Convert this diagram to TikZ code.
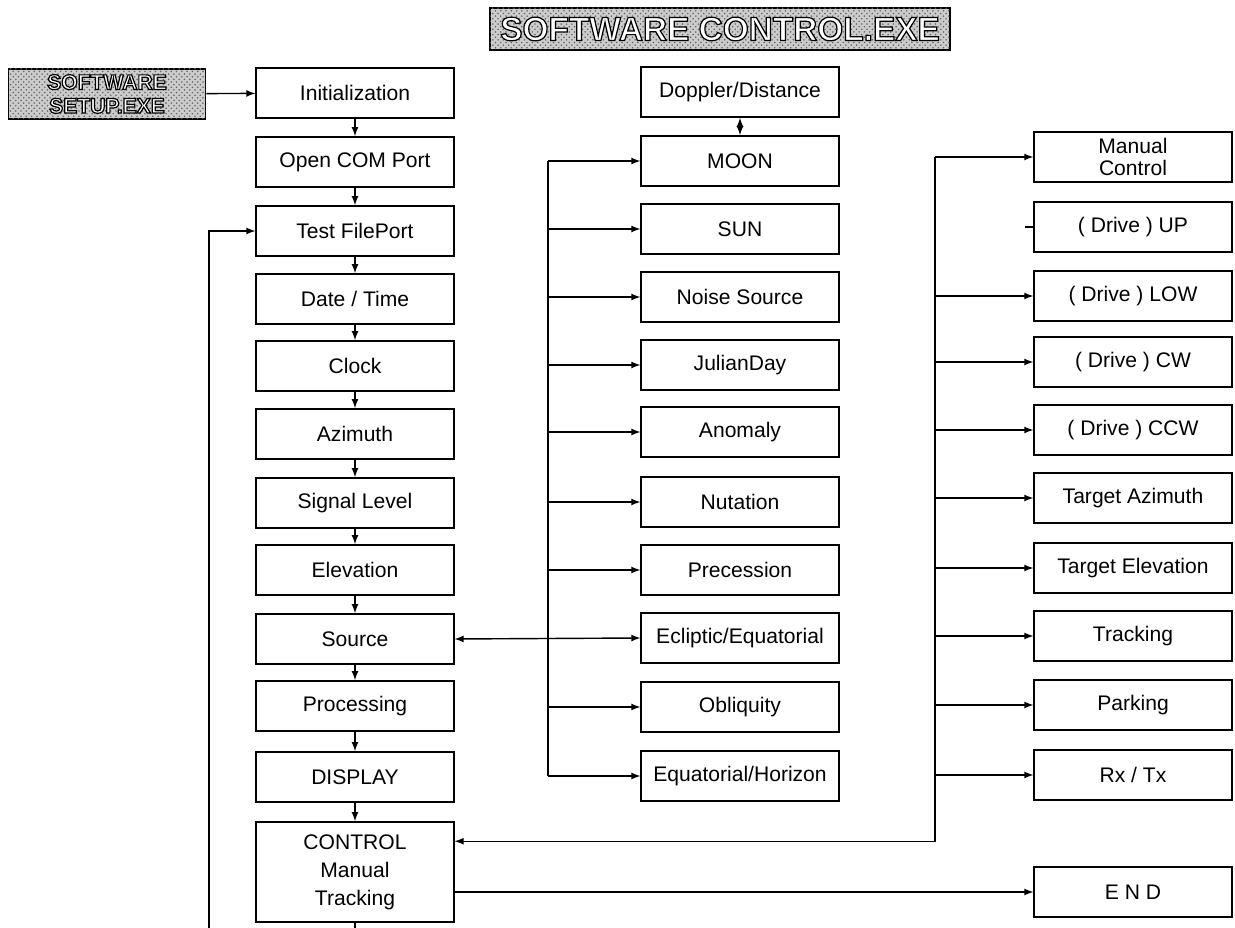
\documentclass[tikz,border=0pt]{standalone}
\usepackage{fontspec}
\setmainfont{Liberation Sans}
\usetikzlibrary{calc}
\usetikzlibrary{patterns}
% white letters with a black outline
\newcommand{\hollow}[1]{\textcolor{white}{\special{pdf:code 0 G 2 Tr 0.7 w}#1\special{pdf:code 0 Tr}}}
\tikzset{
  blk/.style={draw, line width=0.9pt, minimum width=3.95cm, minimum height=1cm, inner sep=0pt, align=center, font=\fontsize{12}{13}\selectfont},
  exe/.style={draw, line width=1pt, fill=gray!40, postaction={pattern=crosshatch dots, pattern color=black!60}, inner sep=0pt, align=center},
  arr/.style={-latex, line width=0.8pt},
  bus/.style={line width=0.8pt},
}

\begin{document}
\begin{tikzpicture}[x=0.02cm, y=-0.02cm]
    \useasboundingbox (0,0) rectangle (1235,928);
    % the two program headers
    \node[exe, minimum width=9.2cm, minimum height=0.84cm, font=\bfseries\fontsize{19}{20}\selectfont] (ctrlexe) at (720,29) {\hollow{SOFTWARE CONTROL.EXE}};
    \node[exe, minimum width=3.94cm, minimum height=1cm, font=\bfseries\fontsize{12}{13.5}\selectfont] (setupexe) at (107,94) {\hollow{SOFTWARE}\\\hollow{SETUP.EXE}};

    % main sequence
    \node[blk] (init) at (355,93) {Initialization};
    \node[blk] (opencom) at (355,162) {Open COM Port};
    \node[blk] (testfile) at (355,231) {Test FilePort};
    \node[blk] (datetime) at (355,299) {Date / Time};
    \node[blk] (clock) at (355,366) {Clock};
    \node[blk] (azimuth) at (355,434) {Azimuth};
    \node[blk] (signal) at (355,503) {Signal Level};
    \node[blk] (elev) at (355,570) {Elevation};
    \node[blk] (source) at (355,639) {Source};
    \node[blk] (process) at (355,706) {Processing};
    \node[blk] (display) at (355,777) {DISPLAY};
    \node[blk, minimum height=2cm, font=\fontsize{12}{16}\selectfont] (control) at (355,872) {CONTROL\\Manual\\Tracking};

    % source calculations
    \node[blk] (doppler) at (740,92) {Doppler/Distance};
    \node[blk] (moon) at (740,161) {MOON};
    \node[blk] (sun) at (740,229) {SUN};
    \node[blk] (noise) at (740,297) {Noise Source};
    \node[blk] (julian) at (740,365) {JulianDay};
    \node[blk] (anomaly) at (740,432) {Anomaly};
    \node[blk] (nutation) at (740,502) {Nutation};
    \node[blk] (precess) at (740,570) {Precession};
    \node[blk] (ecliptic) at (740,638) {Ecliptic/Equatorial};
    \node[blk] (obliq) at (740,707) {Obliquity};
    \node[blk] (eqhor) at (740,776) {Equatorial/Horizon};

    % antenna control
    \node[blk, font=\fontsize{12}{12}\selectfont] (manual) at (1133,157) {Manual\\Control};
    \node[blk] (up) at (1133,227) {( Drive ) UP};
    \node[blk] (low) at (1133,296) {( Drive ) LOW};
    \node[blk] (cw) at (1133,362) {( Drive ) CW};
    \node[blk] (ccw) at (1133,430) {( Drive ) CCW};
    \node[blk] (taz) at (1133,498) {Target Azimuth};
    \node[blk] (tel) at (1133,568) {Target Elevation};
    \node[blk] (track) at (1133,636) {Tracking};
    \node[blk] (park) at (1133,705) {Parking};
    \node[blk] (rxtx) at (1133,775) {Rx / Tx};
    \node[blk] (end) at (1133,892) {E N D};

    \coordinate (mbus) at (548,0);
    \coordinate (rbus) at (935,0);
    \coordinate (loopbot) at (209,928);
    \coordinate (cin) at ($(control.north east)+(0,20)$);

    \draw[arr] (setupexe) -- (init);
    \draw[arr] (init) -- (opencom);
    \draw[arr] (opencom) -- (testfile);
    \draw[arr] (testfile) -- (datetime);
    \draw[arr] (datetime) -- (clock);
    \draw[arr] (clock) -- (azimuth);
    \draw[arr] (azimuth) -- (signal);
    \draw[arr] (signal) -- (elev);
    \draw[arr] (elev) -- (source);
    \draw[arr] (source) -- (process);
    \draw[arr] (process) -- (display);
    \draw[arr] (display) -- (control);
    % loop back
    \draw[bus] (control.south) -- (control.south |- loopbot);
    \draw[arr] (loopbot) |- (testfile.west);

    \draw[latex-latex, line width=0.8pt] (doppler) -- (moon);
    \draw[latex-latex, line width=0.8pt] (source.east) -- (ecliptic.west);
    \draw[bus] (mbus |- moon.west) -- (mbus |- eqhor.west);
    \draw[arr] (mbus |- moon.west) -- (moon.west);
    \draw[arr] (mbus |- sun.west) -- (sun.west);
    \draw[arr] (mbus |- noise.west) -- (noise.west);
    \draw[arr] (mbus |- julian.west) -- (julian.west);
    \draw[arr] (mbus |- anomaly.west) -- (anomaly.west);
    \draw[arr] (mbus |- nutation.west) -- (nutation.west);
    \draw[arr] (mbus |- precess.west) -- (precess.west);
    \draw[arr] (mbus |- obliq.west) -- (obliq.west);
    \draw[arr] (mbus |- eqhor.west) -- (eqhor.west);

    \draw[arr] (rbus |- manual.west) |- (cin);
    \draw[arr] (rbus |- manual.west) -- (manual.west);
    \draw[bus] ($(up.west)+(-8,0)$) -- (up.west);
    \draw[arr] (rbus |- low.west) -- (low.west);
    \draw[arr] (rbus |- cw.west) -- (cw.west);
    \draw[arr] (rbus |- ccw.west) -- (ccw.west);
    \draw[arr] (rbus |- taz.west) -- (taz.west);
    \draw[arr] (rbus |- tel.west) -- (tel.west);
    \draw[arr] (rbus |- track.west) -- (track.west);
    \draw[arr] (rbus |- park.west) -- (park.west);
    \draw[arr] (rbus |- rxtx.west) -- (rxtx.west);
    \draw[arr] (control.east |- end.west) -- (end.west);
\end{tikzpicture}
\end{document}
